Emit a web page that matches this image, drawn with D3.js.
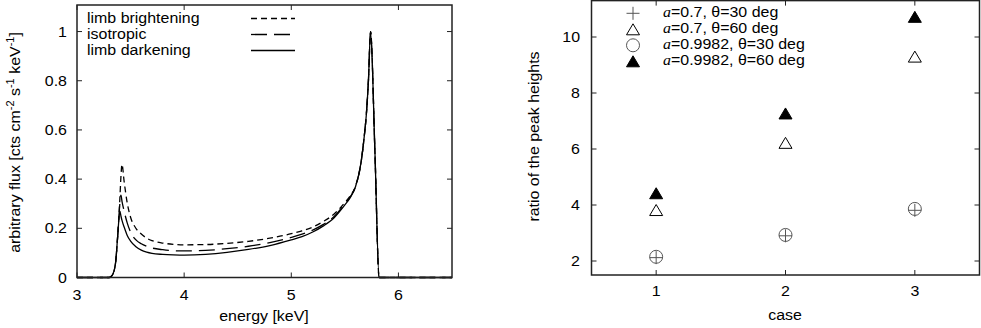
<!DOCTYPE html>
<html>
<head>
<meta charset="utf-8">
<script src="https://cdn.jsdelivr.net/npm/d3@7"></script>
<style>
  body { margin: 0; background: #fff; }
  svg text { font-family: "Liberation Sans", Arial, sans-serif; fill: #000; }
</style>
</head>
<body>
<svg id="chart" width="981" height="328"></svg>
<script>
// left panel: line spectra
const energy = [3.00, 3.30, 3.33, 3.36, 3.38, 3.40, 3.41, 3.42, 3.44, 3.47, 3.50, 3.55, 3.60, 3.65, 3.70,
  3.80, 3.90, 4.00, 4.20, 4.40, 4.60, 4.80, 5.00, 5.10, 5.20, 5.30, 5.40, 5.50, 5.55, 5.60, 5.65,
  5.68, 5.70, 5.72, 5.74, 5.78, 5.82, 6.50];
const limbBright = [0, 0, 0.01, 0.06, 0.17, 0.32, 0.41, 0.46, 0.39, 0.30, 0.245, 0.20, 0.177, 0.16, 0.15,
  0.14, 0.135, 0.133, 0.134, 0.139, 0.147, 0.16, 0.178, 0.19, 0.205, 0.228, 0.258, 0.305, 0.332, 0.372, 0.465,
  0.57, 0.66, 0.80, 1.0, 0.52, 0, 0];
const isotropic = [0, 0, 0.01, 0.06, 0.17, 0.30, 0.335, 0.31, 0.27, 0.22, 0.185, 0.153, 0.137, 0.127, 0.12,
  0.113, 0.109, 0.108, 0.11, 0.117, 0.127, 0.142, 0.163, 0.176, 0.193, 0.216, 0.248, 0.30, 0.328, 0.37, 0.465,
  0.57, 0.66, 0.80, 1.0, 0.52, 0, 0];
const limbDark = [0, 0, 0.01, 0.06, 0.17, 0.27, 0.25, 0.232, 0.205, 0.17, 0.148, 0.125, 0.111, 0.103, 0.098,
  0.094, 0.092, 0.091, 0.094, 0.102, 0.114, 0.13, 0.153, 0.166, 0.185, 0.21, 0.243, 0.295, 0.325, 0.37, 0.465,
  0.57, 0.66, 0.80, 1.0, 0.52, 0, 0];
const energyTicks = [3, 4, 5, 6];
const fluxTicks = [0, 0.2, 0.4, 0.6, 0.8, 1];

// right panel: peak ratios
const cases = [1, 2, 3];
const a07t30 = [2.12, 2.90, 3.81];
const a07t60 = [3.82, 6.22, 9.30];
const a998t30 = [2.15, 2.93, 3.86];
const a998t60 = [4.42, 7.27, 10.72];
const ratioTicks = [2, 4, 6, 8, 10];

const svg = d3.select("#chart");
const FS = 14.5, SX = 1.1, TICK = 5;

// text drawn slightly wide, like the original
const text = (g, x, y, str, anchor, rot) => g.append("text")
  .attr("transform", `translate(${x},${y})` + (rot ? ` rotate(${rot})` : "") + ` scale(${SX},1)`)
  .attr("text-anchor", anchor || "start")
  .style("font-size", FS + "px")
  .text(str);

const frame = (x, y) => {
  const [x0, x1] = x.range(), [y0, y1] = y.range();
  svg.append("rect").attr("x", x0).attr("y", y1).attr("width", x1 - x0).attr("height", y0 - y1)
    .attr("fill", "none").attr("stroke", "#222").attr("stroke-width", 1.5);
};

// ---- left ----
const xL = d3.scaleLinear().domain([3, 6.5]).range([77, 452]);
const yL = d3.scaleLinear().domain([0, 1.108]).range([277.5, 5]);
const gL = svg.append("g");

const ticksL = gL.append("g").attr("stroke", "#222").attr("stroke-width", 1);
energyTicks.forEach(v => {
  ticksL.append("line").attr("x1", xL(v)).attr("x2", xL(v)).attr("y1", yL.range()[0]).attr("y2", yL.range()[0] - TICK);
  ticksL.append("line").attr("x1", xL(v)).attr("x2", xL(v)).attr("y1", yL.range()[1]).attr("y2", yL.range()[1] + TICK);
  text(gL, xL(v), 300, v, "middle");
});
fluxTicks.forEach(v => {
  ticksL.append("line").attr("x1", xL.range()[0]).attr("x2", xL.range()[0] + TICK).attr("y1", yL(v)).attr("y2", yL(v));
  ticksL.append("line").attr("x1", xL.range()[1]).attr("x2", xL.range()[1] - TICK).attr("y1", yL(v)).attr("y2", yL(v));
  text(gL, 67, yL(v) + 5, v, "end");
});

const spectra = [
  {name: "limb brightening", values: limbBright, dash: "6,4"},
  {name: "isotropic", values: isotropic, dash: "16,7"},
  {name: "limb darkening", values: limbDark, dash: null}
];
const line = d3.line().x((d, i) => xL(energy[i])).y(d => yL(d)).curve(d3.curveMonotoneX);
spectra.forEach((s, k) => {
  gL.append("path").attr("d", line(s.values)).attr("fill", "none")
    .attr("stroke", "#000").attr("stroke-width", 1.3).attr("stroke-dasharray", s.dash);
  const by = 22.5 + k * 16;
  text(gL, 87, by, s.name);
  gL.append("line").attr("x1", 251).attr("x2", 295).attr("y1", by - 4).attr("y2", by - 4)
    .attr("stroke", "#000").attr("stroke-width", 1.3).attr("stroke-dasharray", s.dash);
});
frame(xL, yL);

// y title with superscripts
const tY = text(gL, 20, 142.5, "", "middle", -90);
tY.append("tspan").text("arbitrary flux [cts cm");
tY.append("tspan").attr("dy", -6).style("font-size", "10px").text("-2");
tY.append("tspan").attr("dy", 6).text(" s");
tY.append("tspan").attr("dy", -6).style("font-size", "10px").text("-1");
tY.append("tspan").attr("dy", 6).text(" keV");
tY.append("tspan").attr("dy", -6).style("font-size", "10px").text("-1");
tY.append("tspan").attr("dy", 6).text("]");
text(gL, 264, 321, "energy [keV]", "middle");

// ---- right ----
const xR = d3.scaleLinear().domain([0.5, 3.5]).range([591.5, 979.5]);
const yR = d3.scaleLinear().domain([1.5, 11.3]).range([275, 0.6]);
const gR = svg.append("g");

const ticksR = gR.append("g").attr("stroke", "#222").attr("stroke-width", 1);
cases.forEach(v => {
  ticksR.append("line").attr("x1", xR(v)).attr("x2", xR(v)).attr("y1", yR.range()[0]).attr("y2", yR.range()[0] - TICK);
  ticksR.append("line").attr("x1", xR(v)).attr("x2", xR(v)).attr("y1", yR.range()[1]).attr("y2", yR.range()[1] + TICK);
  text(gR, xR(v), 296, v, "middle");
});
ratioTicks.forEach(v => {
  ticksR.append("line").attr("x1", xR.range()[0]).attr("x2", xR.range()[0] + TICK).attr("y1", yR(v)).attr("y2", yR(v));
  ticksR.append("line").attr("x1", xR.range()[1]).attr("x2", xR.range()[1] - TICK).attr("y1", yR(v)).attr("y2", yR(v));
  text(gR, 580, yR(v) + 5, v, "end");
});

const marker = (g, type, cx, cy) => {
  if (type === "plus") {
    g.append("path").attr("d", `M${cx - 6.5},${cy}H${cx + 6.5}M${cx},${cy - 6.5}V${cy + 6.5}`)
      .attr("stroke", "#555").attr("stroke-width", 1).attr("fill", "none");
  } else if (type === "circle") {
    g.append("circle").attr("cx", cx).attr("cy", cy).attr("r", 6.5)
      .attr("stroke", "#555").attr("stroke-width", 1).attr("fill", "none");
  } else {
    g.append("path").attr("d", `M${cx},${cy - 5.5}L${cx + 6.5},${cy + 5.5}L${cx - 6.5},${cy + 5.5}Z`)
      .attr("stroke", "#000").attr("stroke-width", 1)
      .attr("fill", type === "tri-fill" ? "#000" : "none");
  }
};

const groups = [
  {a: "0.7", t: "30", values: a07t30, type: "plus"},
  {a: "0.7", t: "60", values: a07t60, type: "tri"},
  {a: "0.9982", t: "30", values: a998t30, type: "circle"},
  {a: "0.9982", t: "60", values: a998t60, type: "tri-fill"}
];
groups.forEach((s, k) => {
  s.values.forEach((v, i) => marker(gR, s.type, xR(cases[i]), yR(v)));
  const by = 17 + k * 16;
  marker(gR, s.type, 633, by - 3.7);
  const t = text(gR, 663, by, "");
  t.append("tspan").style("font-family", "'Liberation Serif', serif").style("font-style", "italic").text("a");
  t.append("tspan").text(`=${s.a}, θ=${s.t} deg`);
});
frame(xR, yR);

text(gR, 539, 136.5, "ratio of the peak heights", "middle", -90);
text(gR, 785, 320, "case", "middle");
</script>
</body>
</html>
